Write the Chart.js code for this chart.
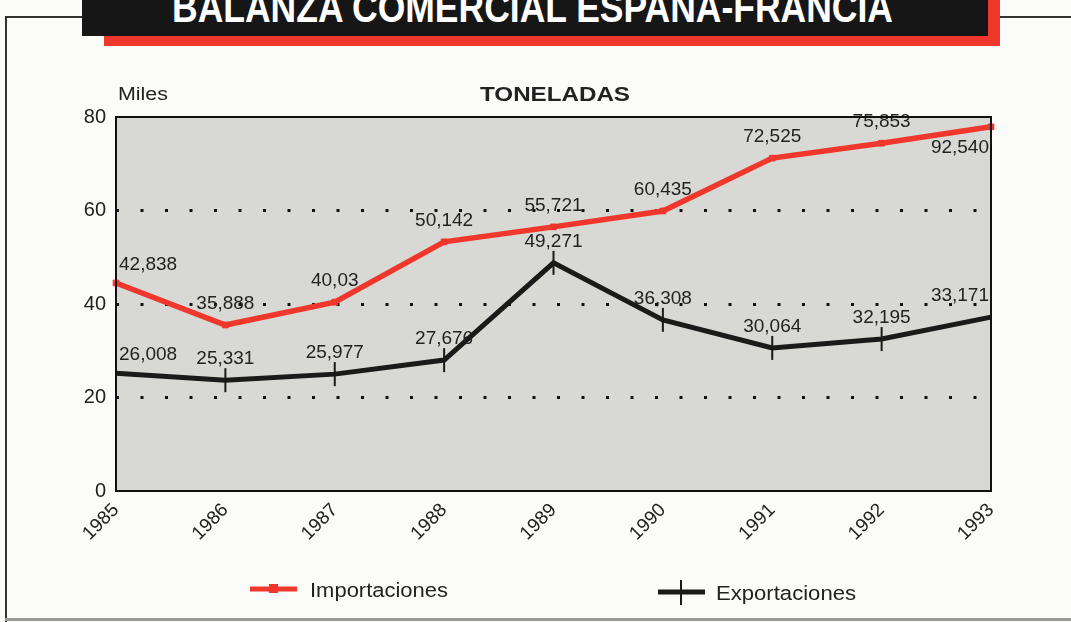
<!DOCTYPE html>
<html>
<head>
<meta charset="utf-8">
<script src="https://cdn.jsdelivr.net/npm/chart.js@4.4.1/dist/chart.umd.min.js"></script>
<style>
  body { margin: 0; width: 1071px; height: 622px; overflow: hidden; position: relative; background: #fbfbf9; font-family: "Liberation Sans", Arial, sans-serif; }
  #frame-left { position: absolute; left: 5px; top: 17px; width: 2px; height: 605px; background: #333; }
  #frame-top1 { position: absolute; left: 5px; top: 16px; width: 80px; height: 2px; background: #333; }
  #frame-top2 { position: absolute; left: 998px; top: 16px; width: 73px; height: 2px; background: #333; }
  #frame-bottom { position: absolute; left: 5px; top: 618px; width: 1066px; height: 3px; background: #9a9a9a; }
  #shadow { position: absolute; left: 104px; top: -10px; width: 896px; height: 56px; background: #f0372c; }
  #titlebox { position: absolute; left: 82px; top: -10px; width: 906px; height: 46px; background: #161616; }
  #title { position: absolute; left: 0; top: 0; }
  #chart { position: absolute; left: 0; top: 0; }
</style>
</head>
<body>
<div id="frame-left"></div>
<div id="frame-top1"></div>
<div id="frame-top2"></div>
<div id="frame-bottom"></div>
<div id="shadow"></div>
<div id="titlebox"></div>
<svg id="title" width="1071" height="40">
  <text x="172" y="22" textLength="721" lengthAdjust="spacingAndGlyphs" fill="#fff"
        font-family="Liberation Sans Narrow, Liberation Sans, Arial" font-weight="bold" font-size="42">BALANZA COMERCIAL ESPAÑA-FRANCIA</text>
</svg>
<canvas id="chart" width="1071" height="622"></canvas>
<script>
// Años del eje X
const years = ['1985', '1986', '1987', '1988', '1989', '1990', '1991', '1992', '1993'];

// Posición dibujada de cada punto (miles de toneladas)
const importaciones = [44.5, 35.5, 40.4, 53.3, 56.5, 59.9, 71.2, 74.4, 77.9];
const exportaciones = [25.2, 23.7, 25.0, 28.0, 48.8, 36.6, 30.6, 32.5, 37.2];

// Etiquetas impresas sobre cada punto
const importLabels = ['42,838', '35,888', '40,03', '50,142', '55,721', '60,435', '72,525', '75,853', '92,540'];
const exportLabels = ['26,008', '25,331', '25,977', '27,676', '49,271', '36,308', '30,064', '32,195', '33,171'];

const yTicks = [0, 20, 40, 60, 80];

const RED = '#f0372c';
const BLACK = '#1a1a1a';
const FONT = '"Liberation Sans", Arial, sans-serif';

// texto estirado horizontalmente hasta un ancho dado
function fitText(ctx, text, x, y, width) {
    const w = ctx.measureText(text).width;
    ctx.save();
    ctx.translate(x, y);
    ctx.scale(width / w, 1);
    ctx.fillText(text, 0, 0);
    ctx.restore();
}

// Fondo gris y marco del área del gráfico
const plotArea = {
    id: 'plotArea',
    beforeDraw(chart) {
        const { ctx, chartArea: a } = chart;
        ctx.save();
        ctx.fillStyle = '#d8d8d4';
        ctx.fillRect(a.left, a.top, a.right - a.left, a.bottom - a.top);
        ctx.restore();
    },
    afterDraw(chart) {
        const { ctx, chartArea: a } = chart;
        ctx.save();
        ctx.strokeStyle = '#111';
        ctx.lineWidth = 2;
        ctx.strokeRect(a.left, a.top, a.right - a.left, a.bottom - a.top);

        // textos de cabecera
        ctx.fillStyle = '#222';
        ctx.textBaseline = 'alphabetic';
        ctx.textAlign = 'left';
        ctx.font = '18px ' + FONT;
        fitText(ctx, 'Miles', 118, 100, 50);
        ctx.font = 'bold 20px ' + FONT;
        fitText(ctx, 'TONELADAS', 480, 101, 150);

        // leyenda
        ctx.lineWidth = 5;
        ctx.strokeStyle = RED;
        ctx.beginPath(); ctx.moveTo(250, 589); ctx.lineTo(297, 589); ctx.stroke();
        ctx.fillStyle = RED;
        ctx.fillRect(269, 584, 9, 9);
        ctx.strokeStyle = BLACK;
        ctx.beginPath(); ctx.moveTo(658, 592); ctx.lineTo(705, 592); ctx.stroke();
        ctx.lineWidth = 2;
        ctx.beginPath(); ctx.moveTo(681, 580); ctx.lineTo(681, 605); ctx.stroke();
        ctx.fillStyle = '#222';
        ctx.font = '20px ' + FONT;
        fitText(ctx, 'Importaciones', 310, 597, 138);
        fitText(ctx, 'Exportaciones', 716, 600, 140);
        ctx.restore();
    }
};

// Etiquetas de valor junto a cada punto
const valueLabels = {
    id: 'valueLabels',
    afterDatasetsDraw(chart) {
        const ctx = chart.ctx;
        const texts = [importLabels, exportLabels];
        ctx.save();
        ctx.fillStyle = '#222';
        ctx.font = '19px ' + FONT;
        chart.data.datasets.forEach((ds, i) => {
            const meta = chart.getDatasetMeta(i);
            const last = meta.data.length - 1;
            meta.data.forEach((pt, j) => {
                let x = pt.x, y = pt.y - 12;
                ctx.textAlign = 'center';
                ctx.textBaseline = 'bottom';
                if (j === 0) { ctx.textAlign = 'left'; x += 3; y = pt.y - 9; }
                if (j === last) {
                    ctx.textAlign = 'right';
                    x -= 2;
                    if (i === 0) { ctx.textBaseline = 'top'; y = pt.y + 11; }
                }
                ctx.fillText(texts[i][j], x, y);
            });
        });
        ctx.restore();
    }
};

new Chart(document.getElementById('chart'), {
    type: 'line',
    data: {
        labels: years,
        datasets: [
            {
                label: 'Importaciones',
                data: importaciones,
                borderColor: RED,
                backgroundColor: RED,
                borderWidth: 5.5,
                pointStyle: 'rect',
                pointRadius: 4,
                pointBorderWidth: 1,
                tension: 0
            },
            {
                label: 'Exportaciones',
                data: exportaciones,
                borderColor: BLACK,
                backgroundColor: BLACK,
                borderWidth: 5,
                pointStyle: 'line',
                pointRotation: 90,
                pointRadius: 12,
                pointBorderWidth: 2,
                tension: 0
            }
        ]
    },
    options: {
        responsive: false,
        animation: false,
        layout: { padding: { left: 56, top: 117, right: 80, bottom: 0 } },
        plugins: {
            legend: { display: false },
            tooltip: { enabled: false }
        },
        scales: {
            x: {
                offset: false,
                grid: { display: false, drawTicks: false },
                border: { display: false },
                ticks: {
                    color: '#222',
                    font: { family: FONT, size: 19 },
                    maxRotation: 45,
                    minRotation: 45,
                    padding: 8
                },
                afterFit(scale) { scale.height = 131; }
            },
            y: {
                min: 0,
                max: 80,
                afterBuildTicks(scale) { scale.ticks = yTicks.map(v => ({ value: v })); },
                grid: {
                    drawTicks: false,
                    lineWidth: 3,
                    color: c => (c.tick && c.tick.value > 0 && c.tick.value < 80) ? '#111' : 'transparent'
                },
                border: { display: false, dash: [3, 21.5] },
                ticks: {
                    color: '#222',
                    font: { family: FONT, size: 20 },
                    padding: 10
                },
                afterFit(scale) { scale.width = 60; }
            }
        }
    },
    plugins: [plotArea, valueLabels]
});
</script>
</body>
</html>
